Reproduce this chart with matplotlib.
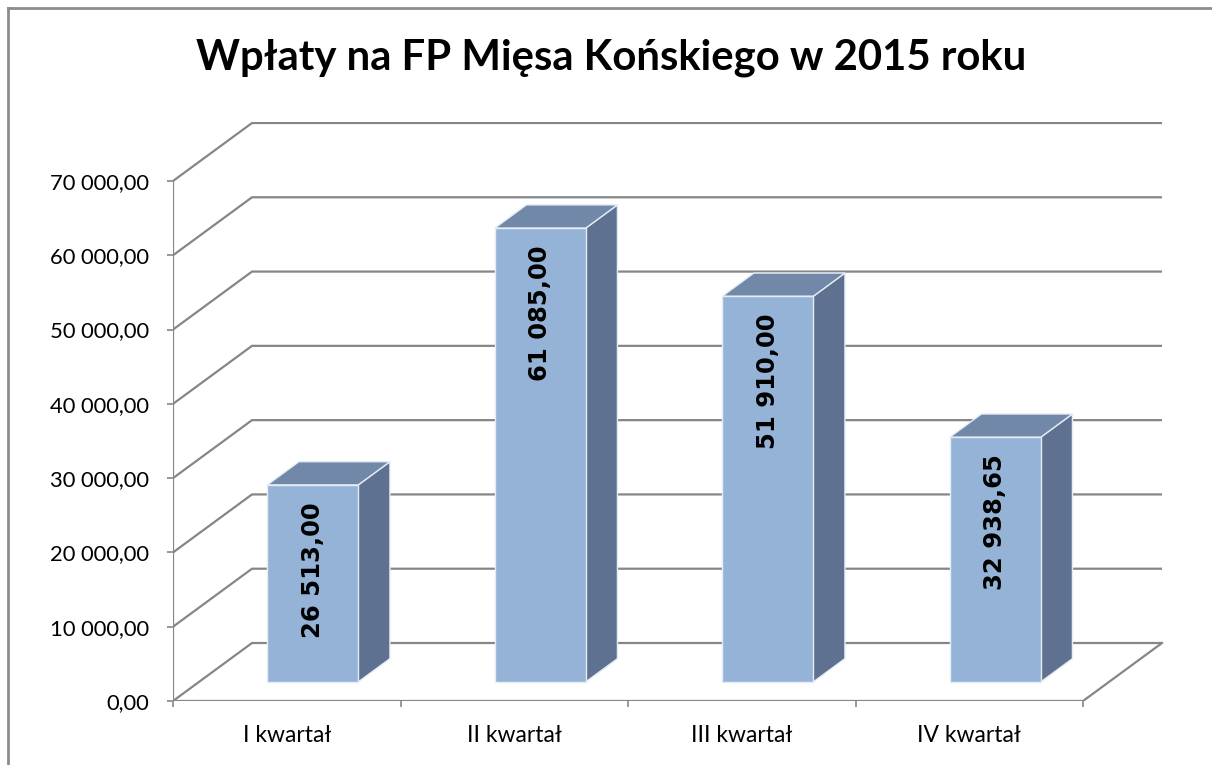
import matplotlib
matplotlib.use("Agg")
import matplotlib.pyplot as plt
from matplotlib.patches import Polygon
from matplotlib.lines import Line2D

# data
categories = ["I kwartał", "II kwartał", "III kwartał", "IV kwartał"]
values = [26513.00, 61085.00, 51910.00, 32938.65]
value_labels = ["26 513,00", "61 085,00", "51 910,00", "32 938,65"]
y_ticks = [0, 10000, 20000, 30000, 40000, 50000, 60000, 70000]
title = "Wpłaty na FP Mięsa Końskiego w 2015 roku"

plt.rcParams['font.family'] = ['Lato', 'DejaVu Sans']

W, H = 1212, 765
fig = plt.figure(figsize=(W / 100, H / 100), dpi=100)

# pixel geometry of the front plane
px_x0, px_unit = 173, 227.5          # x=0 at 173px, one category = 227.5px
px_y0, px_per_val = 701, 520 / 70000  # y=0 at 701px
xmax, ymax = 4.36, 78000
ax = fig.add_axes([px_x0 / W, (H - px_y0) / H,
                   xmax * px_unit / W, ymax * px_per_val / H])
ax.set_xlim(0, xmax)
ax.set_ylim(0, ymax)
for s in ax.spines.values():
    s.set_visible(False)

# depth offset of the back wall (in data units)
Dx = 79 / px_unit
Dy = 58 / px_per_val
grid_col = '#868686'

# wall gridlines
for v in y_ticks:
    ax.plot([0, Dx, 4 + Dx], [v, v + Dy, v + Dy], color=grid_col, lw=1.6, zorder=1,
            solid_capstyle='butt')
# floor
ax.plot([0, 4, 4 + Dx], [0, 0, Dy], color=grid_col, lw=1.6, zorder=1)
# front y axis
ax.plot([0, 0], [0, y_ticks[-1]], color=grid_col, lw=1.6, zorder=1)

# 3d bars
f1, f2 = 0.33, 0.73
dd = f2 - f1
front_c, side_c, top_c = '#95B3D7', '#5F7190', '#7288A8'
edge = '#E4ECF5'
for i, v in enumerate(values):
    xc = i + 0.5 + f1 * Dx
    xl, xr = xc - 0.2, xc + 0.2
    yb = f1 * Dy
    yt = yb + v
    side = Polygon([(xr, yb), (xr, yt), (xr + dd * Dx, yt + dd * Dy), (xr + dd * Dx, yb + dd * Dy)],
                   closed=True, fc=side_c, ec=edge, lw=1.0, zorder=3)
    top = Polygon([(xl, yt), (xr, yt), (xr + dd * Dx, yt + dd * Dy), (xl + dd * Dx, yt + dd * Dy)],
                  closed=True, fc=top_c, ec=edge, lw=1.0, zorder=3)
    front = Polygon([(xl, yb), (xr, yb), (xr, yt), (xl, yt)],
                    closed=True, fc=front_c, ec=edge, lw=1.0, zorder=4)
    ax.add_patch(side)
    ax.add_patch(top)
    ax.add_patch(front)
    ax.text(xc, yt - 2300, value_labels[i], rotation=90, ha='center', va='top',
            fontsize=17.5, fontweight='bold', color='black', zorder=5,
            family=['DejaVu Sans'])

# y axis ticks
ax.set_yticks(y_ticks)
ax.set_yticklabels([f"{v:,.2f}".replace(",", " ").replace(".", ",") for v in y_ticks])
ax.tick_params(axis='y', direction='out', length=4.5, width=1.2, color=grid_col,
               labelsize=15.8, pad=13, labelcolor='black')

# x axis ticks at category boundaries, labels at centres
ax.set_xticks([0, 1, 2, 3, 4])
ax.set_xticklabels([])
ax.set_xticks([i + 0.5 for i in range(len(categories))], minor=True)
ax.set_xticklabels(categories, minor=True)
ax.tick_params(axis='x', which='major', direction='out', length=4.5, width=1.2, color=grid_col)
ax.tick_params(axis='x', which='minor', length=0, labelsize=16.5, pad=17, labelcolor='black')

fig.text(611 / W, 1 - 58 / H, title, ha='center', va='center',
         fontsize=30.2, fontweight='bold', color='black')

# chart area border (left and top edges visible)
fig.add_artist(Line2D([8 / W, 8 / W], [0, 1 - 8 / H], color='#8C8C8C', lw=2, transform=fig.transFigure))
fig.add_artist(Line2D([8 / W, 1], [1 - 8 / H, 1 - 8 / H], color='#8C8C8C', lw=2, transform=fig.transFigure))

fig.savefig("out.png", dpi=100)
